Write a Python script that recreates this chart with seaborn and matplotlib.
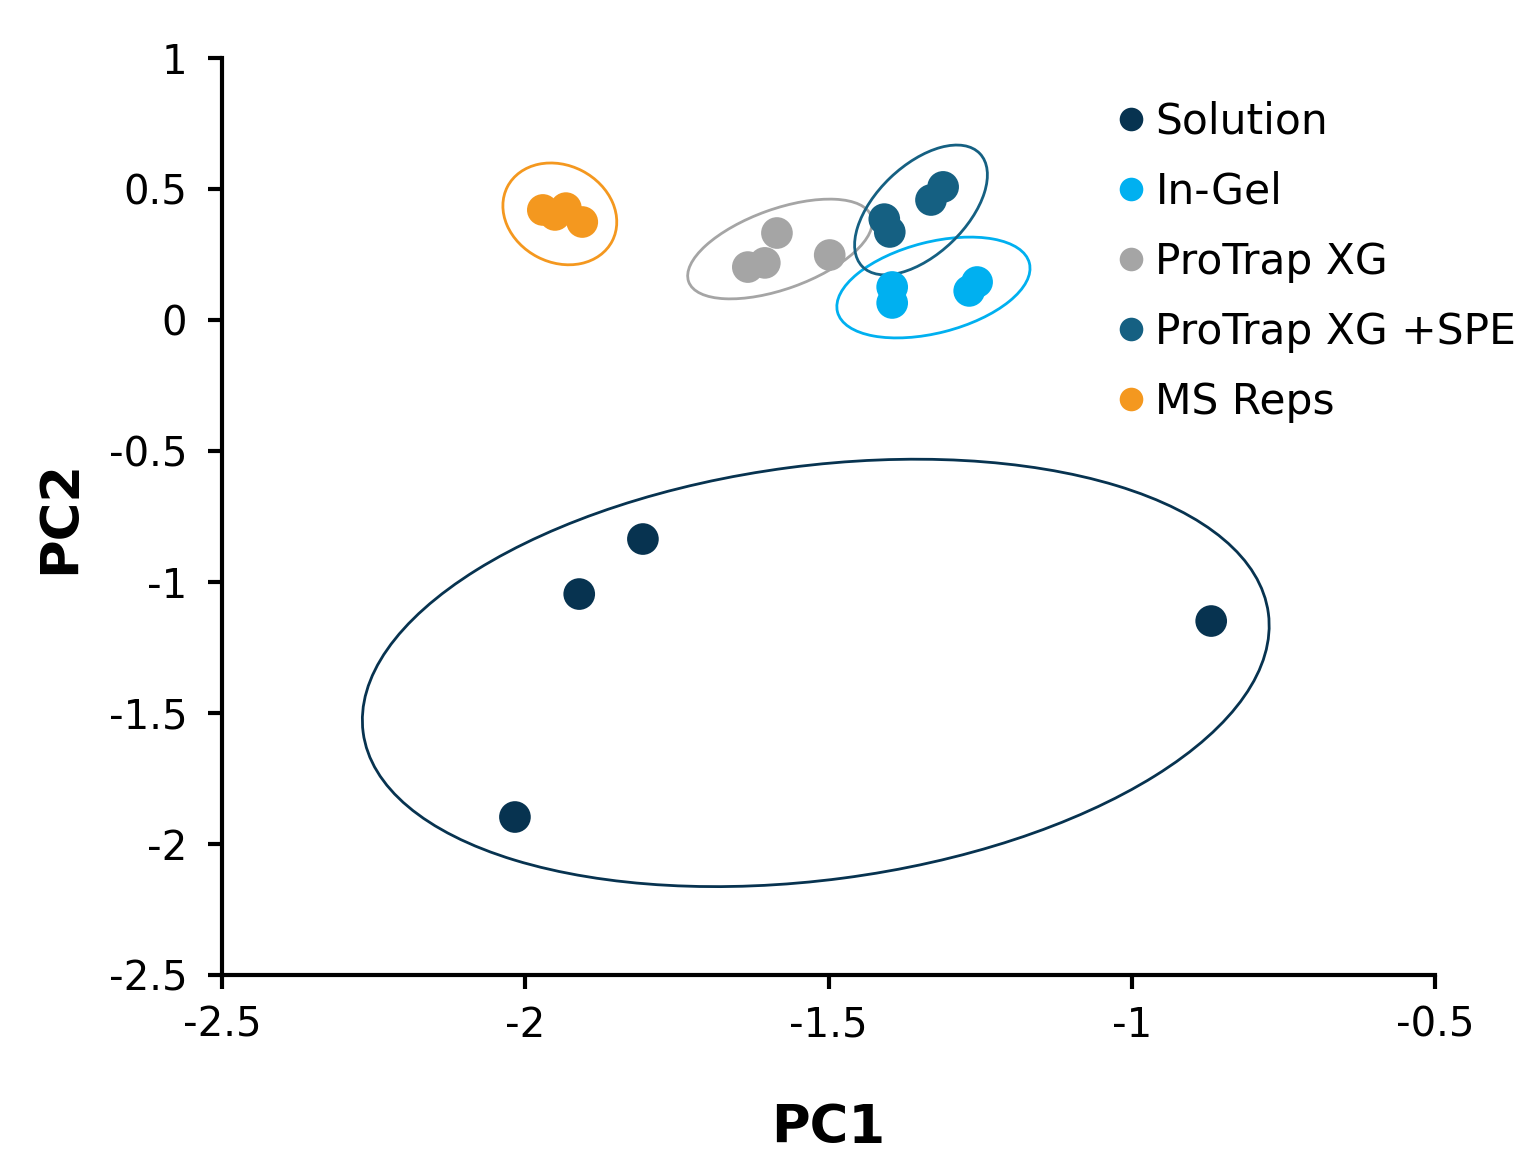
import numpy as np
import pandas as pd
import matplotlib
matplotlib.use("Agg")
import matplotlib.pyplot as plt
import seaborn as sns
from matplotlib.patches import Ellipse
from matplotlib.lines import Line2D
from matplotlib.transforms import ScaledTranslation

# ---------------- data ----------------
groups = ["Solution", "In-Gel", "ProTrap XG", "ProTrap XG +SPE", "MS Reps"]
colors = ["#073350", "#00b0f0", "#a5a5a5", "#156082", "#f4981f"]

solution_pc1 = [-1.806, -1.911, -2.017, -0.869]
solution_pc2 = [-0.836, -1.046, -1.897, -1.149]

ingel_pc1 = [-1.395, -1.395, -1.255, -1.268]
ingel_pc2 = [0.126, 0.065, 0.145, 0.111]

protrap_pc1 = [-1.585, -1.633, -1.605, -1.498]
protrap_pc2 = [0.332, 0.202, 0.218, 0.248]

spe_pc1 = [-1.408, -1.399, -1.311, -1.331]
spe_pc2 = [0.385, 0.336, 0.508, 0.458]

msreps_pc1 = [-1.971, -1.951, -1.933, -1.906]
msreps_pc2 = [0.420, 0.401, 0.427, 0.374]

# group ellipses: centre (data units), width/height (pixels), angle (deg)
ell_cx = [-1.521, -1.327, -1.580, -1.3475, -1.943]
ell_cy = [-1.347, 0.124, 0.271, 0.420, 0.405]
ell_w = [913, 198, 194, 163, 118]
ell_h = [414, 91, 80, 89, 97]
ell_ang = [7.5, 14.3, 19.7, 43.8, -27.4]

x_ticks = [-2.5, -2.0, -1.5, -1.0, -0.5]
x_tick_labels = ["-2.5", "-2", "-1.5", "-1", "-0.5"]
y_ticks = [1.0, 0.5, 0.0, -0.5, -1.0, -1.5, -2.0, -2.5]
y_tick_labels = ["1", "0.5", "0", "-0.5", "-1", "-1.5", "-2", "-2.5"]

pc1_all = [solution_pc1, ingel_pc1, protrap_pc1, spe_pc1, msreps_pc1]
pc2_all = [solution_pc2, ingel_pc2, protrap_pc2, spe_pc2, msreps_pc2]

rows = []
for g, xs, ys in zip(groups, pc1_all, pc2_all):
    for xv, yv in zip(xs, ys):
        rows.append({"PC1": xv, "PC2": yv, "group": g})
df = pd.DataFrame(rows)

# ---------------- plot ----------------
sns.set_theme(style="white")
plt.rcParams["font.family"] = ["DejaVu Sans"]

DPI = 100
fig = plt.figure(figsize=(15.21, 11.58), dpi=DPI)
ax = fig.add_axes([222 / 1521, 1 - 975 / 1158, (1435 - 222) / 1521, (975 - 58) / 1158])

palette = dict(zip(groups, colors))
sns.scatterplot(data=df, x="PC1", y="PC2", hue="group", hue_order=groups,
                palette=palette, s=520, edgecolor="none", linewidth=0,
                legend=False, ax=ax, zorder=3)

ax.set_xlim(-2.5, -0.5)
ax.set_ylim(-2.5, 1.0)

for cx, cy, w, h, a, c in zip(ell_cx, ell_cy, ell_w, ell_h, ell_ang, colors):
    tr = fig.dpi_scale_trans + ScaledTranslation(cx, cy, ax.transData)
    e = Ellipse((0, 0), w / DPI, h / DPI, angle=a, transform=tr,
                fill=False, edgecolor=c, linewidth=2.0, zorder=2, clip_on=False)
    ax.add_patch(e)

ax.set_xticks(x_ticks)
ax.set_xticklabels(x_tick_labels)
ax.set_yticks(y_ticks)
ax.set_yticklabels(y_tick_labels)

for side in ["top", "right"]:
    ax.spines[side].set_visible(False)
for side in ["left", "bottom"]:
    ax.spines[side].set_linewidth(3)
    ax.spines[side].set_color("black")

ax.tick_params(axis="both", which="major", direction="out", length=10, width=3,
               color="black", labelsize=29, labelcolor="black",
               left=True, bottom=True, top=False, right=False)
ax.tick_params(axis="y", pad=15)
ax.tick_params(axis="x", pad=12)
ax.grid(False)

ax.set_xlabel("PC1", fontsize=38, fontweight="bold", color="black")
ax.set_ylabel("PC2", fontsize=38, fontweight="bold", color="black")
ax.xaxis.set_label_coords(0.5, -0.138)
ax.yaxis.set_label_coords(-0.112, 0.5)

handles = [Line2D([0], [0], marker="o", linestyle="none", markersize=17,
                  markerfacecolor=c, markeredgecolor="none") for c in colors]
leg = fig.legend(handles, groups, loc="upper left",
                 bbox_to_anchor=(1119 / 1521, 1 - 101 / 1158),
                 bbox_transform=fig.transFigure, frameon=False, fontsize=30.5,
                 handlelength=0.58, handletextpad=0.28, labelspacing=0.66,
                 borderpad=0, borderaxespad=0)
for t in leg.get_texts():
    t.set_color("black")

fig.savefig("out.png", dpi=DPI, facecolor="white")
